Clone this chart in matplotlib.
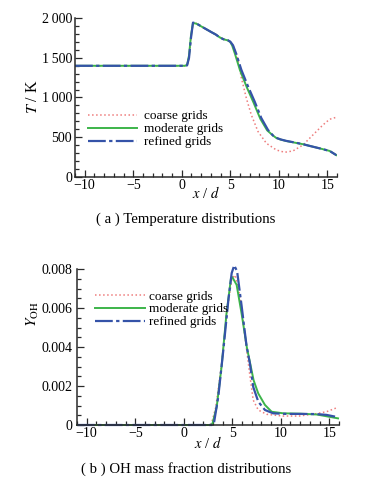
import matplotlib
matplotlib.use('Agg')
import matplotlib.pyplot as plt
from matplotlib.ticker import MultipleLocator, FixedLocator, FixedFormatter

plt.rcParams['font.family'] = ['Liberation Serif', 'DejaVu Serif']
plt.rcParams['mathtext.fontset'] = 'stix'
plt.rcParams['font.size'] = 10

# (a) temperature
x_ref_T = [-11, 0.3, 0.55, 0.75, 0.95, 1.16, 1.5, 2.19, 3.05, 3.5, 3.9, 4.3, 4.76, 5.0, 5.28, 5.62, 6.14,
           6.83, 7.51, 8.2, 8.89, 9.4, 9.75, 10.2, 10.77, 11.5, 12.49, 13.3, 14.2, 15.24, 15.93]
T_ref = [1400, 1400, 1405, 1500, 1750, 1945, 1935, 1885, 1825, 1795, 1760, 1735, 1722, 1705, 1660, 1550, 1350,
         1140, 950, 740, 590, 520, 490, 470, 452, 435, 410, 385, 358, 325, 272]

x_mod_T = [-11, 0.3, 0.55, 0.75, 0.95, 1.16, 1.5, 2.19, 3.05, 3.5, 3.9, 4.3, 4.76, 5.0, 5.2, 5.5, 6.0,
           6.7, 7.4, 8.1, 8.8, 9.4, 9.75, 10.2, 10.77, 11.5, 12.49, 13.3, 14.2, 15.24, 15.93]
T_mod = [1400, 1400, 1410, 1530, 1780, 1940, 1932, 1885, 1825, 1795, 1760, 1735, 1720, 1700, 1655, 1545, 1345,
         1130, 935, 730, 585, 520, 488, 468, 450, 433, 410, 385, 358, 325, 272]

x_crs_T = [-11, 0.3, 0.55, 0.75, 0.95, 1.16, 1.5, 2.19, 3.05, 3.5, 3.9, 4.3, 4.76, 5.0, 5.28, 5.62, 5.9,
           6.14, 6.66, 7.17, 7.86, 8.72, 9.75, 10.6, 11.46, 12.49, 13.52, 14.55, 15.24, 15.93]
T_crs = [1400, 1400, 1405, 1500, 1750, 1945, 1935, 1885, 1825, 1795, 1760, 1735, 1722, 1705, 1660, 1550, 1420,
         1250, 990, 780, 570, 422, 337, 308, 325, 400, 527, 653, 725, 750]

# (b) OH mass fraction
x_ref_Y = [-11, 2.9, 3.1, 3.56, 4.08, 4.6, 4.94, 5.2, 5.5, 5.97, 6.48, 6.82, 7.16, 7.68, 8.37, 9.22,
           10.5, 12.0, 13.7, 14.7, 15.9]
Y_ref = [0, 0, 0.00005, 0.00146, 0.00385, 0.00642, 0.0078, 0.0082, 0.0079, 0.0061, 0.00403, 0.00316,
         0.00196, 0.0012, 0.00077, 0.0006, 0.00057, 0.00057, 0.00056, 0.00052, 0.0004]

x_mod_Y = [-11, 2.7, 2.95, 3.4, 3.9, 4.4, 4.87, 5.0, 5.45, 5.97, 6.5, 7.2, 7.68, 8.37, 9.06, 10.26,
           12.0, 13.7, 15.9]
Y_mod = [0, 0, 0.00005, 0.00094, 0.003, 0.0057, 0.00754, 0.0076, 0.0072, 0.0057, 0.004, 0.0023,
         0.00162, 0.00103, 0.00068, 0.0006, 0.00058, 0.00054, 0.00034]

x_crs_Y = [-11, 2.6, 2.85, 3.3, 3.9, 4.5, 4.95, 5.3, 5.8, 6.3, 6.8, 7.16, 7.68, 8.54, 10.2, 11.9,
           13.6, 14.7, 15.9]
Y_crs = [0, 0, 0.00005, 0.0009, 0.0031, 0.006, 0.0075, 0.0077, 0.0066, 0.0046, 0.0026, 0.00128,
         0.00077, 0.00055, 0.00046, 0.00046, 0.00058, 0.00068, 0.00091]

labels = ['coarse grids', 'moderate grids', 'refined grids']
c_crs, c_mod, c_ref = '#ee7d7d', '#3cb44a', '#3553a8'
ls_ref = (0, (8, 1.5, 1.5, 1.5))

x_ticks = [-10, -5, 0, 5, 10, 15]
T_ticks = [0, 500, 1000, 1500, 2000]
T_ticklabels = ['0', '500', '1\u2009000', '1\u2009500', '2\u2009000']
Y_ticks = [0, 0.002, 0.004, 0.006, 0.008]
Y_ticklabels = ['0', '0.002', '0.004', '0.006', '0.008']

fig = plt.figure(figsize=(3.91, 4.83), dpi=100)
ax1 = fig.add_axes([0.1918, 0.6342, 0.6701, 0.328])
ax2 = fig.add_axes([0.1969, 0.1201, 0.6701, 0.3224])


def style(ax):
    for s in ['top', 'right']:
        ax.spines[s].set_visible(False)
    for s in ['left', 'bottom']:
        ax.spines[s].set_linewidth(1.1)
        ax.spines[s].set_color('#2a2a2a')
    ax.tick_params(which='both', direction='in', color='#2a2a2a', width=0.9)
    ax.tick_params(which='major', length=5)
    ax.tick_params(which='minor', length=3)
    ax.tick_params(axis='x', pad=1.5)
    ax.xaxis.set_major_locator(FixedLocator(x_ticks))
    ax.xaxis.set_minor_locator(MultipleLocator(1))
    ax.set_xlim(-11, 16)


# top panel
ax1.plot(x_crs_T, T_crs, ':', color=c_crs, lw=1.1, label=labels[0])
ax1.plot(x_mod_T, T_mod, '-', color=c_mod, lw=1.4, label=labels[1])
ax1.plot(x_ref_T, T_ref, color=c_ref, lw=1.6, ls=ls_ref, label=labels[2])
style(ax1)
ax1.set_ylim(0, 2000)
ax1.yaxis.set_major_locator(FixedLocator(T_ticks))
ax1.yaxis.set_major_formatter(FixedFormatter(T_ticklabels))
ax1.yaxis.set_minor_locator(MultipleLocator(100))
ax1.tick_params(axis='y', pad=2)
ax1.set_xlabel('$x$ / $d$', fontsize=10.5)
ax1.xaxis.set_label_coords(0.5, -0.105)
ax1.xaxis.label.set_va('center')
ax1.set_ylabel('$T$ / K', fontsize=11.5)
ax1.yaxis.set_label_coords(-0.16, 0.503)
ax1.yaxis.label.set_va('center')
ax1.legend(loc='upper left', bbox_to_anchor=(0.05, 0.42), frameon=False, borderpad=0,
           borderaxespad=0, handlelength=3.7, handletextpad=0.5, labelspacing=0.05, fontsize=9.5)

# bottom panel
ax2.plot(x_crs_Y, Y_crs, ':', color=c_crs, lw=1.1, label=labels[0], clip_on=False)
ax2.plot(x_mod_Y, Y_mod, '-', color=c_mod, lw=1.4, label=labels[1], clip_on=False)
ax2.plot(x_ref_Y, Y_ref, color=c_ref, lw=1.6, ls=ls_ref, label=labels[2], clip_on=False)
style(ax2)
ax2.set_ylim(0, 0.008)
ax2.yaxis.set_major_locator(FixedLocator(Y_ticks))
ax2.yaxis.set_major_formatter(FixedFormatter(Y_ticklabels))
ax2.yaxis.set_minor_locator(MultipleLocator(0.0005))
ax2.tick_params(axis='y', pad=3.5)
ax2.set_xlabel('$x$ / $d$', fontsize=10.5)
ax2.xaxis.set_label_coords(0.5, -0.114)
ax2.xaxis.label.set_va('center')
ax2.set_ylabel('$Y_{\\mathrm{OH}}$', fontsize=11)
ax2.yaxis.set_label_coords(-0.168, 0.713)
ax2.yaxis.label.set_va('center')
ax2.legend(loc='upper left', bbox_to_anchor=(0.069, 0.865), frameon=False, borderpad=0,
           borderaxespad=0, handlelength=3.8, handletextpad=0.25, labelspacing=0.05, fontsize=9.5)

fig.text(0.476, 0.5466, '( a ) Temperature distributions', ha='center', va='center', fontsize=10.6)
fig.text(0.476, 0.0283, '( b ) OH mass fraction distributions', ha='center', va='center', fontsize=10.6)

fig.savefig('out.png', dpi=100)
